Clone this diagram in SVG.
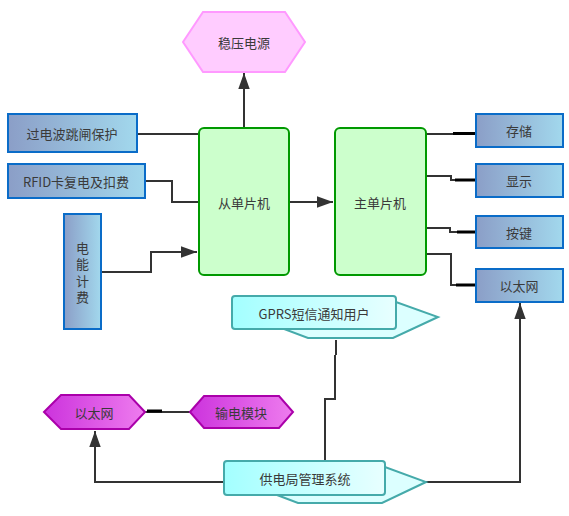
<svg xmlns="http://www.w3.org/2000/svg" width="569" height="516" viewBox="0 0 569 516">
<defs>
<linearGradient id="gBlue" x1="0" y1="0" x2="1" y2="0"><stop offset="0" stop-color="#8b9ec7"/><stop offset="1" stop-color="#a2d8ed"/></linearGradient>
<linearGradient id="gCyan" x1="0" y1="0" x2="1" y2="0"><stop offset="0" stop-color="#a3ffff"/><stop offset="1" stop-color="#e8ffff"/></linearGradient>
<linearGradient id="gPurple" x1="0" y1="0" x2="1" y2="0"><stop offset="0" stop-color="#cc33dd"/><stop offset="1" stop-color="#ee7cee"/></linearGradient>
<marker id="arr" markerUnits="userSpaceOnUse" markerWidth="16" markerHeight="12" viewBox="0 0 14 10" refX="14" refY="5" orient="auto"><path d="M0,0 L14,5 L0,10 Z" fill="#333"/></marker>
<style>
text{font-family:"Noto Sans CJK SC","Liberation Sans",sans-serif;font-size:13px;fill:#3a3a3a;text-anchor:middle;dominant-baseline:central}
.vert{writing-mode:vertical-rl;letter-spacing:3.3px;text-anchor:start}
.blue{fill:url(#gBlue);stroke:#0a6cc8;stroke-width:2}
.green{fill:#ccffcc;stroke:#009900;stroke-width:2}
.cyan{fill:url(#gCyan);stroke:#45aaaa;stroke-width:2}
.cyanb{fill:#dcffff;stroke:#45aaaa;stroke-width:2}
.pink{fill:#ffccff;stroke:#ff99ff;stroke-width:2}
.purple{fill:url(#gPurple);stroke:#aa00aa;stroke-width:2}
.c{fill:none;stroke:#333;stroke-width:2}
.stub{fill:none;stroke:#000;stroke-width:3}
</style>
</defs>
<g id="connectors">
<path class="c" d="M244 127 V73" marker-end="url(#arr)"/>
<path class="c" d="M137 134 H199"/>
<path class="c" d="M145 181 H172 V202 H199"/>
<path class="c" d="M101 272 H151 V252 H197" marker-end="url(#arr)"/>
<path class="c" d="M289 202 H333" marker-end="url(#arr)"/>
<path class="c" d="M426 134 H476"/>
<path class="stub" d="M453 133.5 H476"/>
<path class="c" d="M426 176 H451 V180 H476"/>
<path class="stub" d="M455 180 H477"/>
<path class="c" d="M426 228 H450 V232 H476"/>
<path class="stub" d="M457 232 H476"/>
<path class="c" d="M426 254 H451 V285 H476"/>
<path class="stub" d="M456 285 H476"/>
<path class="c" d="M336 340 V355 M335 355 V399 H325 V461"/>
<path class="c" d="M224 482 H95 V431" marker-end="url(#arr)"/>
<path class="c" d="M426 482 H520 V303" marker-end="url(#arr)"/>
<path class="c" d="M145 412 H190"/>
<path class="stub" d="M147 411 H162"/>
</g>
<g id="wenya"><polygon class="pink" points="183,42 203,12 285,12 305,42 285,72 203,72"/><text x="244" y="42">稳压电源</text></g>
<g id="guodian"><rect class="blue" x="8" y="114" width="129" height="38"/><text x="72" y="133">过电波跳闸保护</text></g>
<g id="rfid"><rect class="blue" x="8" y="164" width="137" height="34"/><text x="76" y="181">RFID卡复电及扣费</text></g>
<g id="dianneng"><rect class="blue" x="64" y="214" width="37" height="115"/>
<text class="vert" x="82.5" y="241.5">电能计费</text></g>
<g id="cong"><rect class="green" x="199" y="128" width="90" height="147" rx="5"/><text x="244" y="202">从单片机</text></g>
<g id="zhu"><rect class="green" x="335" y="128" width="91" height="147" rx="5"/><text x="380" y="202">主单片机</text></g>
<g id="cunchu"><rect class="blue" x="476" y="114" width="87" height="33"/><text x="519" y="130.5">存储</text></g>
<g id="xianshi"><rect class="blue" x="476" y="164" width="87" height="33"/><text x="519" y="180.5">显示</text></g>
<g id="anjian"><rect class="blue" x="476" y="216" width="87" height="32"/><text x="519" y="232">按键</text></g>
<g id="yitai1"><rect class="blue" x="476" y="269" width="87" height="33"/><text x="519" y="285.5">以太网</text></g>
<g id="gprs"><polygon class="cyanb" points="300,302 396,302 438,317 393,338 308,338 284,329"/><rect class="cyan" x="232" y="296" width="164" height="33" rx="3"/><text x="314" y="313">GPRS短信通知用户</text></g>
<g id="gongdian"><polygon class="cyanb" points="300,467 385,467 426,482 382,503 298,503 277,495"/><rect class="cyan" x="224" y="461" width="161" height="34" rx="3"/><text x="305" y="478">供电局管理系统</text></g>
<g id="yitai2"><polygon class="purple" points="44,412 61,395 129,395 145,412 129,429 61,429"/><text x="94" y="412">以太网</text></g>
<g id="shudian"><polygon class="purple" points="190,412 204,396 279,396 293,412 279,428 204,428"/><text x="241" y="412">输电模块</text></g>
</svg>
